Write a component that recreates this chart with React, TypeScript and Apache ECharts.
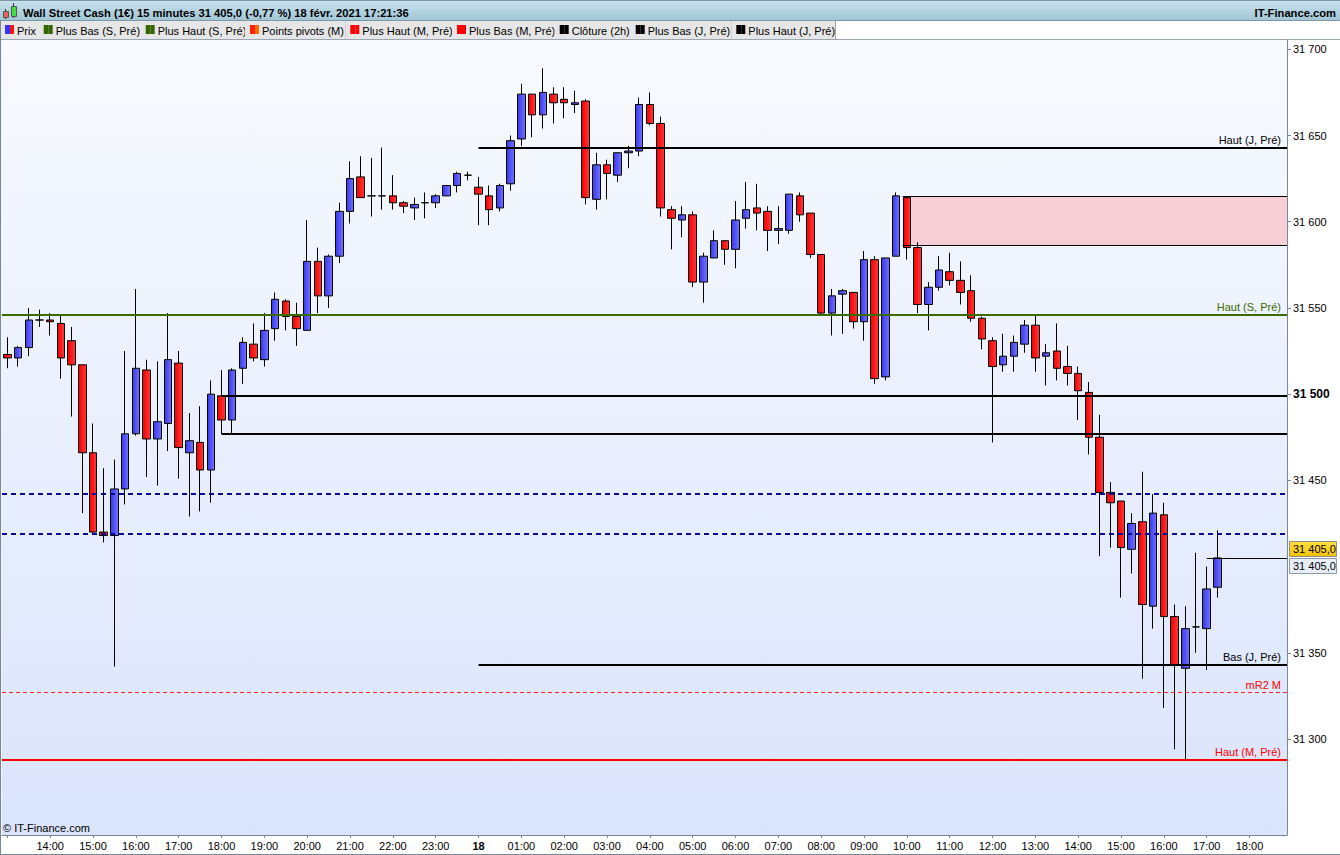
import React, { useEffect, useRef } from 'react';
import * as echarts from 'echarts';

// ---------- DATA ----------
// 15-minute slots from 17 Feb 13:00 to 18 Feb 18:45 (axis categories)
const categories: string[] = [];
for (let i = 0; i < 120; i++) {
  const m = 13 * 60 + i * 15;
  const h = Math.floor(m / 60) % 24;
  const mm = m % 60;
  categories.push(`${String(h).padStart(2, '0')}:${String(mm).padStart(2, '0')}`);
}

const opens = [
  31523, 31521, 31527, 31543, 31543, 31541, 31531, 31517, 31466, 31420,
  31418, 31445, 31477, 31514, 31474, 31483, 31518, 31466, 31472, 31456,
  31499, 31485, 31515, 31529, 31520, 31538, 31554, 31545, 31537, 31577,
  31557, 31580, 31606, 31626, 31615, 31615, 31615, 31611, 31608, 31611,
  31611, 31615, 31621, 31627, 31620, 31615, 31608, 31622, 31648, 31674,
  31662, 31674, 31671, 31668, 31670, 31613, 31633, 31627, 31640, 31641,
  31668, 31657, 31607, 31601, 31604, 31565, 31579, 31589, 31584, 31602,
  31608, 31606, 31595, 31595, 31615, 31605, 31581, 31547, 31558, 31559,
  31542, 31578, 31510, 31580, 31614, 31585, 31552, 31562, 31571, 31566,
  31560, 31544, 31531, 31517, 31522, 31529, 31540, 31522, 31525, 31516,
  31512, 31501, 31475, 31443, 31438, 31410, 31426, 31377, 31430, 31371,
  31341, 31365, 31364, 31388,
];
const closes = [
  31521, 31527, 31543, 31543, 31542, 31521, 31517, 31466, 31420, 31418,
  31445, 31477, 31515, 31474, 31484, 31520, 31469, 31473, 31456, 31500,
  31485, 31514, 31530, 31521, 31537, 31555, 31545, 31538, 31577, 31557,
  31580, 31606, 31625, 31614, 31615, 31615, 31611, 31609, 31610, 31611,
  31615, 31621, 31628, 31627, 31616, 31607, 31621, 31647, 31674, 31662,
  31675, 31669, 31669, 31669, 31614, 31633, 31628, 31640, 31641, 31668,
  31657, 31608, 31602, 31604, 31565, 31580, 31589, 31584, 31601, 31607,
  31605, 31595, 31596, 31616, 31604, 31581, 31547, 31557, 31560, 31542,
  31578, 31509, 31579, 31615, 31585, 31552, 31562, 31572, 31566, 31559,
  31544, 31532, 31516, 31522, 31530, 31540, 31521, 31524, 31515, 31512,
  31502, 31475, 31443, 31437, 31411, 31425, 31378, 31431, 31371, 31343,
  31364, 31365, 31387, 31405,
];
const lows = [
  31515, 31516, 31522, 31539, 31534, 31509, 31487, 31431, 31419, 31414,
  31342, 31436, 31476, 31452, 31447, 31467, 31451, 31429, 31432, 31437,
  31477, 31477, 31506, 31519, 31516, 31531, 31537, 31528, 31537, 31547,
  31550, 31576, 31599, 31614, 31603, 31607, 31607, 31605, 31601, 31602,
  31608, 31615, 31617, 31624, 31598, 31598, 31606, 31618, 31644, 31649,
  31654, 31657, 31660, 31663, 31610, 31607, 31613, 31623, 31631, 31638,
  31656, 31603, 31584, 31591, 31562, 31553, 31579, 31575, 31573, 31596,
  31595, 31583, 31587, 31593, 31600, 31579, 31546, 31534, 31535, 31538,
  31531, 31506, 31508, 31580, 31578, 31547, 31537, 31560, 31563, 31552,
  31542, 31526, 31472, 31513, 31513, 31524, 31513, 31505, 31508, 31505,
  31485, 31465, 31406, 31411, 31382, 31396, 31335, 31364, 31318, 31294,
  31288, 31350, 31340, 31382,
];
const highs = [
  31533, 31528, 31550, 31549, 31547, 31546, 31539, 31517, 31483, 31457,
  31462, 31525, 31561, 31520, 31519, 31547, 31525, 31489, 31493, 31508,
  31514, 31515, 31533, 31541, 31547, 31559, 31555, 31553, 31601, 31585,
  31581, 31611, 31635, 31638, 31637, 31643, 31627, 31612, 31614, 31617,
  31616, 31621, 31629, 31629, 31626, 31621, 31622, 31650, 31680, 31674,
  31689, 31678, 31678, 31676, 31671, 31640, 31636, 31640, 31644, 31672,
  31675, 31661, 31609, 31609, 31606, 31582, 31595, 31589, 31612, 31623,
  31622, 31609, 31609, 31616, 31617, 31605, 31581, 31561, 31561, 31559,
  31583, 31580, 31579, 31617, 31614, 31588, 31565, 31580, 31582, 31577,
  31569, 31545, 31533, 31535, 31534, 31543, 31546, 31529, 31541, 31528,
  31516, 31507, 31488, 31449, 31438, 31431, 31455, 31442, 31437, 31378,
  31377, 31408, 31400, 31421,
];

// horizontal levels
const levelNames = ['Haut (J, Pré)', 'Haut (S, Pré)', '', '', '', '', 'Bas (J, Pré)', 'mR2 M', 'Haut (M, Pré)'];
const levelValues = [31643, 31546, 31499, 31477, 31442, 31419, 31343, 31327, 31288];
const levelStartSlots = [44, -0.5, 20, 20, -0.5, -0.5, 44, -0.5, -0.5];

const zoneTop = 31614.5;
const zoneBottom = 31586.5;
const zoneStartSlot = 83.6;

const lastPrice = 31405;
const lastPriceLabel = '31 405,0';
const priceLineStartSlot = 112;

const yTickValues = [31300, 31350, 31450, 31500, 31550, 31600, 31650, 31700];
const boldTick = 31500;

const legendNames = [
  'Prix', 'Plus Bas (S, Pré)', 'Plus Haut (S, Pré)', 'Points pivots (M)', 'Plus Haut (M, Pré)',
  'Plus Bas (M, Pré)', 'Clôture (2h)', 'Plus Bas (J, Pré)', 'Plus Haut (J, Pré)',
];

const titleText = 'Wall Street Cash (1€) 15 minutes 31 405,0 (-0,77 %) 18 févr. 2021 17:21:36';

// ---------- STYLES ----------
const FONT = '"Liberation Sans", Arial, sans-serif';
const Y_MIN = 31244.3;
const Y_MAX = 31705.4;
const X_MAX = 119.5;

const levelStyles = [
  { color: '#000000', width: 2, type: 'solid' as any, labelColor: '#000000' },
  { color: '#3A6A00', width: 2, type: 'solid' as any, labelColor: '#3A6A00' },
  { color: '#000000', width: 2, type: 'solid' as any, labelColor: '#000000' },
  { color: '#000000', width: 2, type: 'solid' as any, labelColor: '#000000' },
  { color: '#0A0A96', width: 2, type: [5, 4] as any, labelColor: '#0A0A96' },
  { color: '#0A0A96', width: 2, type: [5, 4] as any, labelColor: '#0A0A96' },
  { color: '#000000', width: 2, type: 'solid' as any, labelColor: '#000000' },
  { color: '#FF2020', width: 1, type: [4, 3] as any, labelColor: '#FF0000' },
  { color: '#FF0000', width: 2, type: 'solid' as any, labelColor: '#FF0000' },
];

const legendBounds = [0, 38.7, 140.7, 245, 345.3, 452, 554.7, 630.7, 731.3, 835.3];
const legendIconColors = [
  ['#3333FF', '#FF1010'], ['#336600', '#336600'], ['#336600', '#336600'], ['#FF2000', '#FF6A00'],
  ['#FF0000', '#FF0000'], ['#FF0000', '#FF0000'], ['#000000', '#000000'], ['#000000', '#000000'], ['#000000', '#000000'],
];

function fmtThousands(v: number): string {
  const s = String(Math.round(v));
  return s.slice(0, s.length - 3) + ' ' + s.slice(s.length - 3);
}

export default function App() {
  const ref = useRef<HTMLDivElement>(null);

  useEffect(() => {
    if (!ref.current) return;
    const chart = echarts.init(ref.current, null, { renderer: 'svg' });

    const candleData = opens.map((o, i) => [o, closes[i], lows[i], highs[i]]);

    const isHour = (_i: number, v: string) => v.endsWith(':00');

    const levelMarkData: any[] = levelValues.map((v, i) => {
      const st = levelStyles[i];
      return [
        {
          coord: [levelStartSlots[i], v],
          lineStyle: { color: st.color, width: st.width, type: st.type },
          label: levelNames[i]
            ? { show: true, formatter: levelNames[i], color: st.labelColor, position: 'insideEndTop', distance: [6, 2], fontSize: 11, fontFamily: FONT }
            : { show: false },
        },
        { coord: [X_MAX, v] },
      ];
    });
    levelMarkData.push([
      { coord: [priceLineStartSlot, lastPrice], lineStyle: { color: '#000', width: 1, type: 'solid' }, label: { show: false } },
      { coord: [X_MAX, lastPrice] },
    ]);

    const option: any = {
      animation: false,
      backgroundColor: '#ffffff',
      textStyle: { fontFamily: FONT },
      grid: {
        left: 2, right: 53, top: 40, bottom: 20, show: true,
        borderWidth: 0,
        backgroundColor: new echarts.graphic.LinearGradient(0, 0, 0, 1, [
          { offset: 0, color: '#F8FAFF' },
          { offset: 1, color: '#DAE4FB' },
        ]),
      },
      xAxis: [
        {
          type: 'category',
          data: categories,
          boundaryGap: true,
          axisLine: { show: true, onZero: false, lineStyle: { color: '#7A8796', width: 1 } },
          axisTick: { show: true, alignWithLabel: true, interval: isHour, length: 3, lineStyle: { color: '#7A8796' } },
          axisLabel: {
            interval: (i: number, v: string) => i > 0 && v.endsWith(':00'),
            formatter: (v: string) => (v === '00:00' ? '{b|18}' : v),
            rich: { b: { fontWeight: 'bold', fontSize: 11, fontFamily: FONT, color: '#000' } },
            fontSize: 11, color: '#000', margin: 5, fontFamily: FONT,
          },
          splitLine: { show: false },
        },
        {
          type: 'value', min: -0.5, max: X_MAX, show: false,
          axisLine: { show: false, onZero: false }, splitLine: { show: false },
        },
      ],
      yAxis: {
        type: 'value',
        position: 'right',
        min: Y_MIN,
        max: Y_MAX,
        splitLine: { show: false },
        axisLine: { show: true, onZero: false, lineStyle: { color: '#7A8796', width: 1 } },
        axisTick: { show: true, customValues: yTickValues, length: 4, lineStyle: { color: '#7A8796' } },
        axisLabel: {
          customValues: yTickValues,
          formatter: (v: number) => (v === boldTick ? '{b|' + fmtThousands(v) + '}' : fmtThousands(v)),
          rich: { b: { fontWeight: 'bold', fontSize: 12, fontFamily: FONT, color: '#000' } },
          fontSize: 11, color: '#000', margin: 6, fontFamily: FONT,
        },
      },
      series: [
        {
          name: 'zone',
          type: 'line',
          xAxisIndex: 1,
          data: [],
          z: 1,
          silent: true,
          markArea: {
            silent: true,
            itemStyle: { color: '#F7CED6' },
            data: [[{ coord: [zoneStartSlot, zoneTop] }, { coord: [X_MAX, zoneBottom] }]],
          },
          markLine: {
            silent: true,
            symbol: ['none', 'none'],
            label: { show: false },
            lineStyle: { color: '#000', width: 1, type: 'solid' },
            data: [
              [{ coord: [zoneStartSlot, zoneTop] }, { coord: [X_MAX, zoneTop] }],
              [{ coord: [zoneStartSlot, zoneBottom] }, { coord: [X_MAX, zoneBottom] }],
            ],
          },
        },
        {
          name: 'Prix',
          type: 'candlestick',
          xAxisIndex: 0,
          z: 2,
          barWidth: 8,
          data: candleData,
          itemStyle: {
            color: new echarts.graphic.LinearGradient(0, 0, 1, 0, [
              { offset: 0, color: '#3838EA' },
              { offset: 1, color: '#7272FF' },
            ]),
            color0: new echarts.graphic.LinearGradient(0, 0, 1, 0, [
              { offset: 0, color: '#F20000' },
              { offset: 1, color: '#FF3A3A' },
            ]),
            borderColor: '#000',
            borderColor0: '#000',
            borderWidth: 1,
          },
        },
        {
          name: 'levels',
          type: 'line',
          xAxisIndex: 1,
          data: [],
          z: 5,
          silent: true,
          markLine: {
            silent: true,
            symbol: ['none', 'none'],
            data: levelMarkData,
          },
        },
      ],
    };

    chart.setOption(option);

    const py = chart.convertToPixel({ yAxisIndex: 0 }, lastPrice) as number;

    const g: any[] = [];
    // header
    g.push({
      type: 'rect', shape: { x: 0, y: 0, width: 1340, height: 20 },
      style: {
        fill: new echarts.graphic.LinearGradient(0, 0, 0, 1, [
          { offset: 0, color: '#C9E3EE' },
          { offset: 1, color: '#A2C6D6' },
        ]),
      },
    });
    g.push({ type: 'line', shape: { x1: 0, y1: 0.5, x2: 1340, y2: 0.5 }, style: { stroke: '#7F98A6', lineWidth: 1 } });
    g.push({ type: 'line', shape: { x1: 0, y1: 20.5, x2: 1340, y2: 20.5 }, style: { stroke: '#7F98A6', lineWidth: 1 } });
    // small candle icon
    g.push({ type: 'line', shape: { x1: 5.5, y1: 9, x2: 5.5, y2: 19 }, style: { stroke: '#333', lineWidth: 1 } });
    g.push({ type: 'rect', shape: { x: 3.5, y: 11.5, width: 5, height: 6 }, style: { fill: '#F06060', stroke: '#555', lineWidth: 1 } });
    g.push({ type: 'line', shape: { x1: 13.5, y1: 3, x2: 13.5, y2: 18 }, style: { stroke: '#333', lineWidth: 1 } });
    g.push({ type: 'rect', shape: { x: 11.5, y: 6.5, width: 5, height: 10 }, style: { fill: '#44DD44', stroke: '#555', lineWidth: 1 } });
    g.push({ type: 'text', x: 23, y: 13, style: { text: titleText, fill: '#000', font: `bold 11.2px ${FONT}`, verticalAlign: 'middle' } });
    g.push({ type: 'text', x: 1336, y: 13, style: { text: 'IT-Finance.com', fill: '#000', font: `bold 11.2px ${FONT}`, align: 'right', verticalAlign: 'middle' } });

    // legend row
    g.push({ type: 'rect', shape: { x: 0, y: 21, width: 1340, height: 19 }, style: { fill: '#FFFFFF' } });
    legendNames.forEach((name, i) => {
      const x0 = legendBounds[i];
      const x1 = legendBounds[i + 1];
      g.push({ type: 'rect', shape: { x: x0, y: 21, width: x1 - x0, height: 18 }, style: { fill: '#E6E6E6' } });
      g.push({ type: 'line', shape: { x1: Math.round(x1) + 0.5, y1: 21, x2: Math.round(x1) + 0.5, y2: 39 }, style: { stroke: '#A5A5A5', lineWidth: 1 } });
      const [c1, c2] = legendIconColors[i];
      g.push({ type: 'rect', shape: { x: x0 + 5, y: 25, width: 5, height: 9 }, style: { fill: c1 } });
      g.push({ type: 'rect', shape: { x: x0 + 10, y: 25, width: 4, height: 9 }, style: { fill: c2 } });
      g.push({ type: 'text', x: x0 + 17, y: 31, style: { text: name, fill: '#000', font: `11px ${FONT}`, verticalAlign: 'middle' } });
    });
    g.push({ type: 'line', shape: { x1: 0, y1: 39.5, x2: 1340, y2: 39.5 }, style: { stroke: '#9AA6B2', lineWidth: 1 } });

    // frame
    g.push({ type: 'line', shape: { x1: 0.5, y1: 21, x2: 0.5, y2: 855 }, style: { stroke: '#7A8796', lineWidth: 1 } });
    g.push({ type: 'line', shape: { x1: 0, y1: 854.5, x2: 1340, y2: 854.5 }, style: { stroke: '#7A8796', lineWidth: 1 } });
    g.push({ type: 'rect', shape: { x: 1, y: 40, width: 1.5, height: 795 }, style: { fill: '#F0F4FD' }, z: -1 });

    // copyright
    g.push({ type: 'text', x: 3, y: 828, z: 10, style: { text: '© IT-Finance.com', fill: '#000', font: `11px ${FONT}`, verticalAlign: 'middle' } });

    // last price boxes on the axis
    g.push({
      type: 'rect', z: 10, shape: { x: 1289.5, y: Math.round(py) - 16.5, width: 47, height: 15 },
      style: {
        fill: new echarts.graphic.LinearGradient(0, 0, 0, 1, [
          { offset: 0, color: '#FFE040' },
          { offset: 1, color: '#F2C200' },
        ]),
        stroke: '#8C8C8C', lineWidth: 1,
      },
    });
    g.push({ type: 'text', z: 11, x: 1293, y: Math.round(py) - 9, style: { text: lastPriceLabel, fill: '#000', font: `11px ${FONT}`, verticalAlign: 'middle' } });
    g.push({
      type: 'rect', z: 10, shape: { x: 1289.5, y: Math.round(py) + 0.5, width: 47, height: 15 },
      style: { fill: '#E8EEF7', stroke: '#8C99A6', lineWidth: 1 },
    });
    g.push({ type: 'text', z: 11, x: 1293, y: Math.round(py) + 8, style: { text: lastPriceLabel, fill: '#000', font: `11px ${FONT}`, verticalAlign: 'middle' } });

    chart.setOption({ graphic: g });

    return () => chart.dispose();
  }, []);

  return (
    <div
      ref={ref}
      style={{ position: 'absolute', left: 0, top: 0, width: 1340, height: 855, background: '#fff' }}
    />
  );
}
